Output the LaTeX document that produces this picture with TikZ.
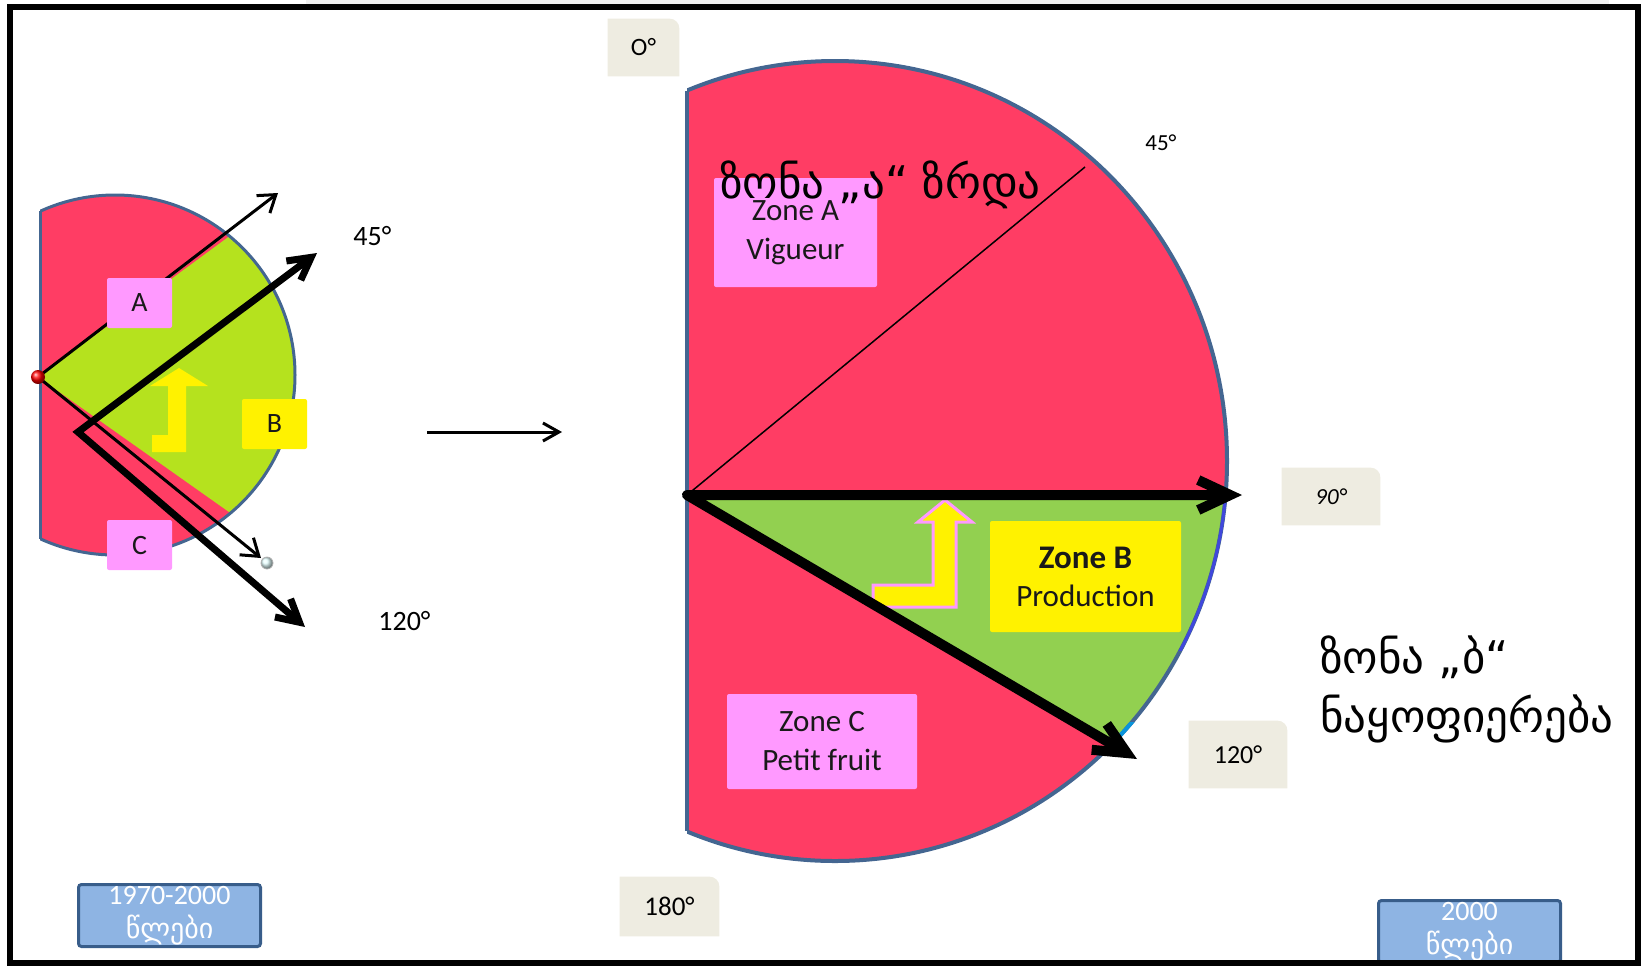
\documentclass[tikz,border=0pt]{standalone}
\usepackage{fontspec}
\setmainfont{Carlito}
\newfontfamily\geo{DejaVu Sans}
\usepackage{tikz}
\usetikzlibrary{arrows.meta,positioning,calc}
\usepackage{xcolor}

\definecolor{zonered}{RGB}{255,61,100}
\definecolor{zonegreen}{RGB}{146,208,80}
\definecolor{limegreen}{RGB}{181,226,30}
\definecolor{rim}{RGB}{68,102,145}
\definecolor{tagpink}{RGB}{255,153,255}
\definecolor{degfill}{RGB}{238,236,225}
\definecolor{yearblue}{RGB}{142,180,227}
\definecolor{yearrim}{RGB}{56,93,138}
\definecolor{edgeblue}{RGB}{64,72,220}

\pgfdeclarelayer{back}
\pgfsetlayers{back,main}

% fill behind a degree tag, only the top right corner rounded
\newcommand{\tabfill}[1]{%
  \begin{pgfonlayer}{back}
    \fill[degfill] (#1.south west) -- (#1.north west) -- ([xshift=-5pt]#1.north east)
      .. controls ([xshift=-2.2pt]#1.north east) and ([yshift=-2.2pt]#1.north east) .. ([yshift=-5pt]#1.north east)
      -- (#1.south east) -- cycle;
  \end{pgfonlayer}}

\begin{document}
\begin{tikzpicture}[x=0.5pt, y=-0.5pt,
    tag/.style={rectangle, fill=tagpink, rounded corners=1pt, inner sep=0pt, align=center, text=black!90},
    degtag/.style={rectangle, inner sep=0pt},
    yeartag/.style={rectangle, draw=yearrim, line width=1.5pt, fill=yearblue, rounded corners=1.5pt, inner sep=0pt,
        minimum width=91pt, minimum height=31pt, align=center, text=white, font=\fontsize{14}{17}\selectfont},
    geobig/.style={anchor=base west, inner sep=0pt, font=\geo\fontsize{22.5}{27}\selectfont},
    thinray/.style={line width=1.5pt, -{Straight Barb[length=8pt,width=11pt]}},
    thickray/.style={line width=3.5pt, arrows={Straight Barb[length=11pt,width=12pt]-Straight Barb[length=11pt,width=12pt]}},
    bigray/.style={line width=5pt, line join=round, arrows={Straight Barb[length=16pt,width=15pt]-Straight Barb[length=16pt,width=15pt]}}]

    \useasboundingbox (0,0) rectangle (1643,966);
    \fill[black!6] (306,0) rectangle (1609,4);

    % 1970-2000 : small crown
    \coordinate (Ldot) at (38,377);
    \coordinate (Lv) at (78,432);
    \coordinate (Ltip45) at (278,193);
    \coordinate (Ltip120) at (261,558);
    \coordinate (Lhead45) at (317,253);
    \coordinate (Lhead120) at (305,627);

    \begin{scope}
        \clip (40,0) rectangle (420,700);
        \fill[zonered] (115,375) circle [radius=90pt];
        \clip (115,375) circle [radius=90pt];
        \fill[limegreen] (Ldot) -- (420,96) -- (420,647) -- cycle;
    \end{scope}
    \begin{scope}
        \clip (40,0) rectangle (420,700);
        \draw[rim, line width=1.5pt] (115,375) circle [radius=90pt];
    \end{scope}
    \draw[rim, line width=1.5pt] (40,211.4) -- (40,538.6);

    \draw[thinray] (Ldot) -- (Ltip45);
    \draw[thinray] (Ldot) -- (Ltip120);
    \shade[ball color=red] (Ldot) circle [radius=3.5pt];
    \shade[ball color=cyan!10, draw=gray!60, line width=0.4pt] (267,563) circle [radius=3pt];

    \fill[yellow] (179,368) -- (208,386) -- (186,386) -- (186,452) -- (152,452) -- (152,435)
        -- (168,435) -- (168,386) -- (150,386) -- cycle;
    \draw[thickray] (Lhead45) -- (Lv) -- (Lhead120);

    \node[tag, minimum width=32.5pt, minimum height=25pt, font=\fontsize{14}{16}\selectfont] (tagA) at (139.5,303) {A};
    \node[tag, fill=yellow, minimum width=32.5pt, minimum height=25pt, font=\fontsize{14}{16}\selectfont] (tagB) at (274.5,424) {B};
    \node[tag, minimum width=32.5pt, minimum height=25pt, font=\fontsize{14}{16}\selectfont] (tagC) at (139.5,545) {C};

    \node[anchor=base west, inner sep=0pt, font=\fontsize{14}{16}\selectfont] (l45) at (353,245) {45°};
    \node[anchor=base west, inner sep=0pt, font=\fontsize{14}{16}\selectfont] (l120) at (378,630) {120°};

    % from the small crown to the large one
    \coordinate (midL) at (427,432);
    \coordinate (midR) at (562,432);
    \draw[line width=1.5pt, -{Straight Barb[length=8pt,width=9pt]}] (midL) -- (midR);

    % 2000 : large crown
    \coordinate (Rc) at (687,495);
    \coordinate (R45) at (1085,167);
    \coordinate (R90) at (1242,495);
    \coordinate (R120) at (1137,759);

    \begin{scope}
        \clip (687,0) rectangle (1300,966);
        \fill[zonered] (835,461) ellipse [x radius=196pt, y radius=200pt];
        \clip (835,461) ellipse [x radius=196pt, y radius=200pt];
        \fill[zonegreen] (Rc) -- (1300,495) -- (1300,852) -- cycle;
    \end{scope}
    \begin{scope}
        \clip (687,0) rectangle (1300,966);
        \draw[rim, line width=2pt] (835,461) ellipse [x radius=196pt, y radius=200pt];
    \end{scope}
    \begin{scope}
        \clip (1150,503) rectangle (1300,650);
        \draw[edgeblue, line width=1.5pt] (835,461) ellipse [x radius=196pt, y radius=200pt];
    \end{scope}
    \begin{scope}
        \clip (1100,722) rectangle (1300,740);
        \draw[cyan!80!blue, line width=2pt] (835,461) ellipse [x radius=196pt, y radius=200pt];
    \end{scope}
    \draw[rim, line width=2pt] (687,90.6) -- (687,831.4);

    \draw[line width=0.75pt] (Rc) -- (R45);
    \draw[fill=yellow, draw=tagpink, line width=1.5pt] (945,500) -- (972,522) -- (956,522) -- (956,607)
        -- (873,607) -- (873,585) -- (933,585) -- (933,522) -- (918,522) -- cycle;
    \draw[bigray] (R90) -- (Rc) -- (R120);

    % zones
    \node[tag, minimum width=81.5pt, minimum height=54.5pt, font=\fontsize{15.5}{19.5}\selectfont] (zoneA) at (795.5,232.5) {Zone A\\Vigueur};
    \node[tag, fill=yellow, minimum width=95.5pt, minimum height=55.5pt, font=\fontsize{15.5}{19}\selectfont] (zoneB) at (1085.5,576.5)
        {{\fontsize{16.5}{19}\selectfont\bfseries Zone B}\\Production};
    \node[tag, minimum width=95pt, minimum height=47.5pt, font=\fontsize{15.5}{19.5}\selectfont] (zoneC) at (822,741.5) {Zone C\\Petit fruit};

    \node[geobig] (zoneAka) at (720,198) {ზონა „ა“ ზრდა};
    \node[geobig] (zoneBka) at (1320,673) {ზონა „ბ“};
    \node[geobig, below=0pt of zoneBka.base west, anchor=base west, yshift=-29.5pt] (zoneBka2) {ნაყოფიერება};

    % angle tags
    \node[anchor=base west, inner sep=0pt, font=\fontsize{11.5}{13}\selectfont] (r45) at (1145,150) {45°};
    \node[degtag, minimum width=35.5pt, minimum height=28.5pt, font=\fontsize{12.5}{14}\selectfont] (d0) at (643.5,47.5) {O°};
    \node[degtag, minimum width=49pt, minimum height=28.5pt, font=\fontsize{11.5}{14}\selectfont\itshape] (d90) at (1331,496.5) {90°};
    \node[degtag, minimum width=49pt, minimum height=33.5pt, font=\fontsize{13}{15}\selectfont] (d120) at (1238,754.5) {120°};
    \node[degtag, minimum width=49.5pt, minimum height=29.5pt, font=\fontsize{13.5}{15}\selectfont] (d180) at (669.5,906.5) {180°};
    \foreach \t in {d0,d90,d120,d180} {\tabfill{\t}}

    % years
    \node[yeartag] (yrOld) at (169.5,915.5) {1970-2000\\{\geo წლები}};
    \node[yeartag] (yrNew) at (1469.5,931.5) {2000\\{\geo წლები}};

    \draw[line width=3pt] (10,7) rectangle (1638,963);
\end{tikzpicture}
\end{document}
